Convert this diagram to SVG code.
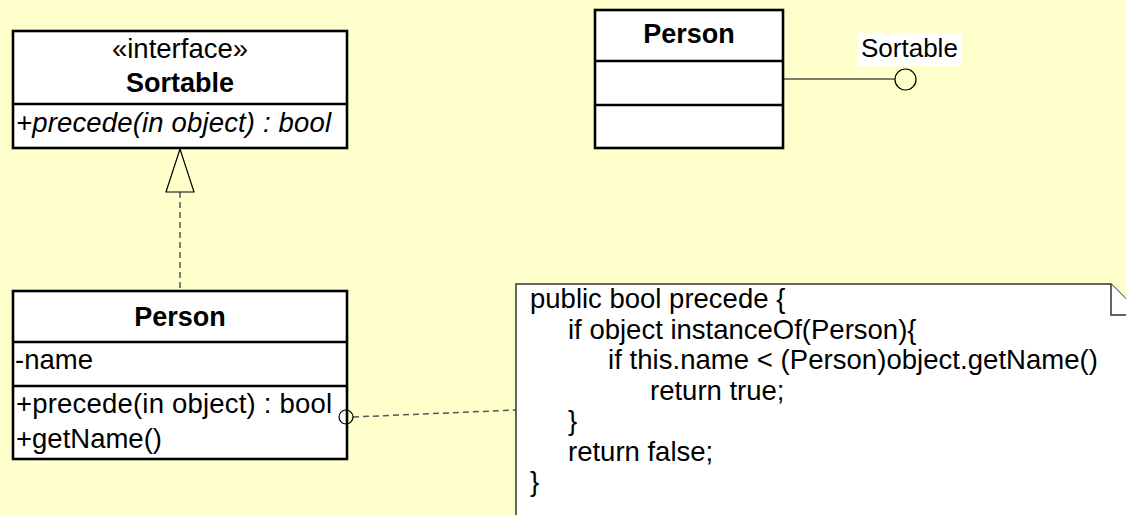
<svg xmlns="http://www.w3.org/2000/svg" width="1126" height="515" viewBox="0 0 1126 515">
<style>
.box{fill:#fff;stroke:#000;stroke-width:2.6}
.div{stroke:#000;stroke-width:2.6}
.t{font-family:"Liberation Sans",Arial,sans-serif;font-size:27.5px;fill:#000}
.b{font-weight:bold;font-size:27px}
.i{font-style:italic}
.c{text-anchor:middle}
.dash{fill:none;stroke:#555;stroke-width:1.5;stroke-dasharray:6 4}
.thin{fill:none;stroke:#000;stroke-width:1.2}
.note{fill:#fff;stroke:#333;stroke-width:1.5}
</style>
<rect width="1126" height="515" fill="#FFFFCC"/>
<g id="connectors">
  <line class="dash" x1="180" y1="192" x2="180" y2="291"/>
  <polygon points="180,149 166,192 194,192" fill="#FFFFCC" stroke="#000" stroke-width="1.2"/>
  <line class="dash" x1="353" y1="417" x2="516" y2="410"/>
  <line class="thin" x1="783" y1="79" x2="895" y2="79"/>
  <circle class="thin" cx="905.5" cy="79.5" r="10.5"/>
</g>
<g id="sortable">
  <rect class="box" x="13" y="31" width="334" height="117"/>
  <line class="div" x1="13" y1="104" x2="347" y2="104"/>
  <text class="t c" x="180" y="58">«interface»</text>
  <text class="t b c" x="180" y="92">Sortable</text>
  <text class="t i" x="16" y="132" textLength="315">+precede(in object) : bool</text>
</g>
<g id="person">
  <rect class="box" x="13" y="291" width="334" height="168"/>
  <line class="div" x1="13" y1="342" x2="347" y2="342"/>
  <line class="div" x1="13" y1="386" x2="347" y2="386"/>
  <text class="t b c" x="180" y="326">Person</text>
  <text class="t" x="15" y="369">-name</text>
  <text class="t" x="16" y="413" textLength="316">+precede(in object) : bool</text>
  <text class="t" x="16" y="448">+getName()</text>
  <circle class="thin" cx="346" cy="417" r="7"/>
</g>
<g id="person-top">
  <rect class="box" x="595" y="10" width="188" height="138"/>
  <line class="div" x1="595" y1="61" x2="783" y2="61"/>
  <line class="div" x1="595" y1="105" x2="783" y2="105"/>
  <text class="t b c" x="689" y="43">Person</text>
</g>
<g id="sortable-label">
  <rect x="857" y="33" width="104" height="33" fill="#fff"/>
  <text class="t" x="861" y="57" style="font-size:26px">Sortable</text>
</g>
<g id="note">
  <path class="note" d="M516,284 L1111,284 L1142,315 L1142,530 L516,530 Z"/>
  <path class="note" d="M1111,284 L1111,315 L1142,315" fill="none"/>
  <text class="t" x="530" y="308">public bool precede {</text>
  <text class="t" x="568" y="338.5">if object instanceOf(Person){</text>
  <text class="t" x="608" y="369" textLength="490">if this.name &lt; (Person)object.getName()</text>
  <text class="t" x="650" y="399.5">return true;</text>
  <text class="t" x="568" y="430">}</text>
  <text class="t" x="568" y="460.5">return false;</text>
  <text class="t" x="530" y="491">}</text>
</g>
</svg>
